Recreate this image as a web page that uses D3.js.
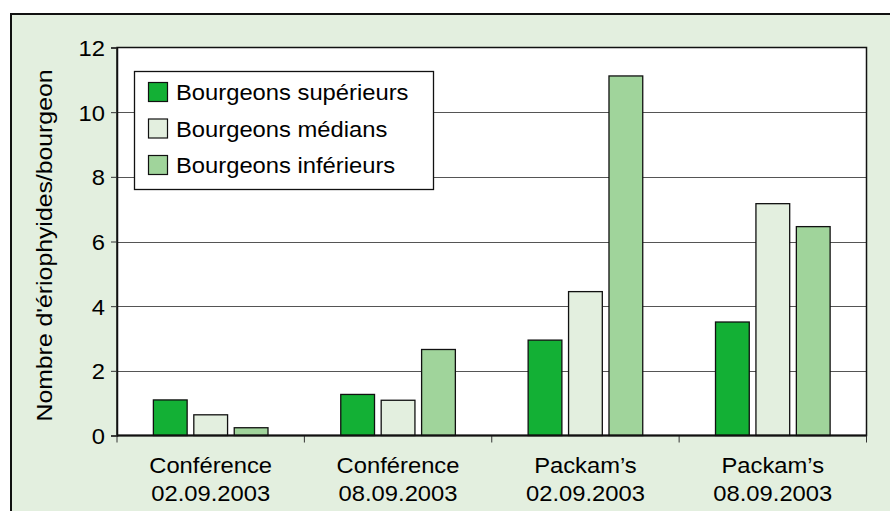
<!DOCTYPE html>
<html><head><meta charset="utf-8">
<script src="https://cdn.jsdelivr.net/npm/d3@7"></script>
<style>body{margin:0;background:#fff}svg{display:block}text{font-family:"Liberation Sans",Arial,sans-serif;fill:#000}</style>
</head><body>
<script>
const categories = [["Conférence","02.09.2003"],["Conférence","08.09.2003"],["Packam’s","02.09.2003"],["Packam’s","08.09.2003"]];
const seriesNames = ["Bourgeons supérieurs","Bourgeons médians","Bourgeons inférieurs"];
const superieurs = [1.1, 1.27, 2.95, 3.51];
const medians = [0.64, 1.09, 4.45, 7.17];
const inferieurs = [0.24, 2.66, 11.12, 6.46];
const yTicks = [0, 2, 4, 6, 8, 10, 12];
const colors = ["#13b035", "#e3efdf", "#a0d49b"];
const seriesValues = [superieurs, medians, inferieurs];

const W = 890, H = 511;
const svg = d3.select("body").append("svg").attr("width", W).attr("height", H);
svg.append("rect").attr("x", 11).attr("y", 14).attr("width", W - 11).attr("height", H - 14).attr("fill", "#e3efdf");
svg.append("path").attr("d", `M11,${H}V14H${W}`).attr("fill", "none").attr("stroke", "#111").attr("stroke-width", 2);

const L = 117, R = 866.5, T = 47.5, B = 435.5;
const x = d3.scaleBand().domain(d3.range(categories.length)).range([L, R]).paddingInner(0).paddingOuter(0);
const y = d3.scaleLinear().domain([0, 12]).range([B, T]);
svg.append("rect").attr("x", L).attr("y", T).attr("width", R - L).attr("height", B - T).attr("fill", "#fff");

// gridlines
svg.append("g").selectAll("line").data(yTicks.filter(t => t > 0 && t < 12)).join("line")
  .attr("x1", L).attr("x2", R).attr("y1", d => Math.round(y(d)) + 0.5).attr("y2", d => Math.round(y(d)) + 0.5)
  .attr("stroke", "#555").attr("stroke-width", 1.2);

const inner = d3.scaleBand().domain(d3.range(3)).range([0, x.bandwidth()]).paddingInner(0.165).paddingOuter(0.9);
seriesValues.forEach((vals, s) => {
  svg.append("g").selectAll("rect").data(vals).join("rect")
    .attr("x", (d, i) => x(i) + inner(s))
    .attr("y", d => y(d))
    .attr("width", inner.bandwidth())
    .attr("height", d => y(0) - y(d))
    .attr("fill", colors[s]).attr("stroke", "#111").attr("stroke-width", 1.3);
});

// frame
svg.append("rect").attr("x", L).attr("y", T).attr("width", R - L).attr("height", B - T)
  .attr("fill", "none").attr("stroke", "#111").attr("stroke-width", 1.5);

// y axis
const yAxis = svg.append("g").attr("transform", `translate(${L},0)`)
  .call(d3.axisLeft(y).tickValues(yTicks).tickSize(6).tickPadding(4).tickFormat(d3.format("d")));
yAxis.attr("font-size", 22).attr("font-family", null);
yAxis.select(".domain").attr("stroke", "#111").attr("stroke-width", 1.5);
yAxis.selectAll(".tick line").attr("stroke", "#333");
yAxis.selectAll("text").attr("fill", "#000").attr("dy", "0.36em").attr("x", -12).attr("class", "stretch");

// x axis ticks at category boundaries
const bounds = d3.range(categories.length + 1).map(i => i < categories.length ? x(i) : R);
svg.append("g").selectAll("line").data(bounds).join("line")
  .attr("x1", d => d).attr("x2", d => d).attr("y1", B).attr("y2", B + 7)
  .attr("stroke", "#333").attr("stroke-width", 1);
svg.append("line").attr("x1", L).attr("x2", R).attr("y1", B).attr("y2", B).attr("stroke", "#111").attr("stroke-width", 2);

const xg = svg.append("g").attr("font-size", 22);
categories.forEach((c, i) => {
  c.forEach((line, k) => {
    xg.append("text").attr("class", "stretch").attr("text-anchor", "middle")
      .attr("x", x(i) + x.bandwidth() / 2).attr("y", k === 0 ? 472.5 : 501).text(line);
  });
});

// y label
svg.append("text").attr("transform", `translate(51.5,245.5) rotate(-90)`)
  .attr("text-anchor", "middle").attr("font-size", 21.5)
  .attr("textLength", 352).attr("lengthAdjust", "spacingAndGlyphs")
  .text("Nombre d'ériophyides/bourgeon");

// legend
const lg = svg.append("g");
lg.append("rect").attr("x", 134.5).attr("y", 71.5).attr("width", 299).attr("height", 118)
  .attr("fill", "#fff").attr("stroke", "#111").attr("stroke-width", 1.3);
seriesNames.forEach((n, i) => {
  const cy = 92 + i * 36.5;
  lg.append("rect").attr("x", 148.5).attr("y", cy - 9.5).attr("width", 19).attr("height", 19)
    .attr("fill", colors[i]).attr("stroke", "#111").attr("stroke-width", 1.2);
  lg.append("text").attr("class", "stretch").attr("x", 176).attr("y", cy + 8).attr("font-size", 22).text(n);
});

// widen glyphs slightly to match the reference typeface
svg.selectAll("text.stretch").each(function () {
  const w = this.getComputedTextLength();
  d3.select(this).attr("textLength", w * 1.08).attr("lengthAdjust", "spacingAndGlyphs");
});
</script>
</body></html>
